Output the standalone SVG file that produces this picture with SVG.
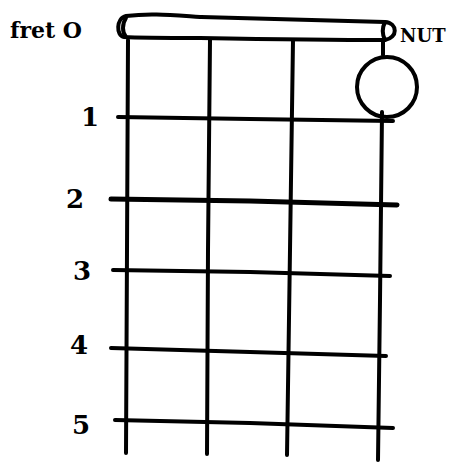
<svg xmlns="http://www.w3.org/2000/svg" width="474" height="466" viewBox="0 0 474 466">
<style>
.ln{stroke:#000;stroke-width:4;fill:none;stroke-linecap:round;stroke-linejoin:round}
.lbl{font-family:"DejaVu Serif","Liberation Serif",serif;font-weight:bold;fill:#000}
</style>
<rect width="474" height="466" fill="#fff"/>
<g id="connectors">
<path class="ln" d="M128,40 L127,250 L126,453"/>
<path class="ln" d="M210,40 L208,250 L207,454"/>
<path class="ln" d="M293,40 L290,250 L287,455"/>
<path class="ln" d="M383,40 L383,55"/>
<path class="ln" d="M382,112 L380,300 L378,460"/>
<path class="ln" d="M118,117 L250,119 L393,121"/>
<path class="ln" d="M111,199 L250,201 L397,205" style="stroke-width:5"/>
<path class="ln" d="M113,270 L250,272 L390,276"/>
<path class="ln" d="M111,348 L250,352 L386,356"/>
<path class="ln" d="M115,420 L250,423 L393,428"/>
</g>
<g id="nut">
<path class="ln" d="M126,16 C150,13 170,15 200,17 C260,19 320,20 385,22 C398,23 398,38 385,40 C320,40 260,39 200,38 C170,38 140,38 124,37 C116,36 116,18 126,16 Z"/>
<path class="ln" d="M126,18 C122,24 122,32 126,37"/>
<path class="ln" d="M385,22 C382,28 382,34 385,40"/>
</g>
<g id="open-circle">
<ellipse class="ln" cx="387" cy="87" rx="30" ry="30"/>
</g>
<g id="labels">
<text class="lbl" x="10" y="38" font-size="22">fret O</text>
<text class="lbl" x="400" y="42" font-size="18">NUT</text>
<text class="lbl" x="81" y="126" font-size="26">1</text>
<text class="lbl" x="66" y="208" font-size="26">2</text>
<text class="lbl" x="73" y="280" font-size="26">3</text>
<text class="lbl" x="70" y="354" font-size="26">4</text>
<text class="lbl" x="72" y="434" font-size="26">5</text>
</g>
</svg>
